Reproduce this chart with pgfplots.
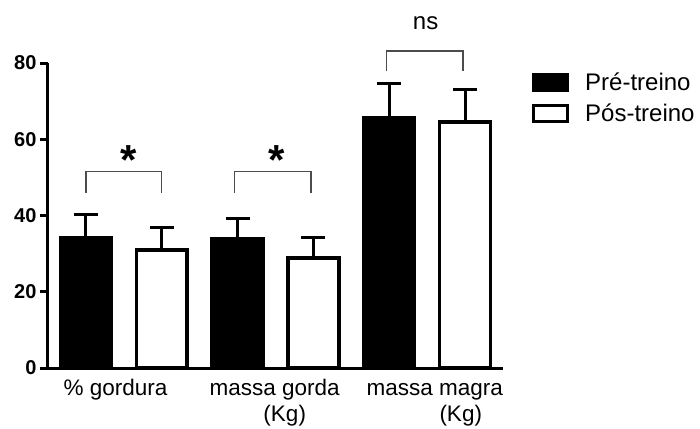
\documentclass[border=0pt]{standalone}
\usepackage{fontspec}
\setmainfont{Liberation Sans}
\usepackage{pgfplots}
\pgfplotsset{compat=1.18}
\begin{document}
\begin{tikzpicture}
\useasboundingbox (-48pt,-60pt) rectangle (652pt,368pt);
\begin{axis}[
  scale only axis, width=455pt, height=305pt,
  xmin=-0.5, xmax=5.5, ymin=0, ymax=80,
  axis x line*=bottom, axis y line*=left,
  axis line style={-, line width=3pt, black},
  clip=false,
  ytick={0,20,40,60,80},
  tick align=outside, major tick length=8pt,
  y tick style={line width=3pt, black},
  x tick style={draw=none},
  xtick={0.39,2.49,4.6},
  xticklabels={{\% gordura},{massa gorda\\\hspace*{20pt}(Kg)},{massa magra\vphantom{d}\\\hspace*{52pt}(Kg)}},
  /pgf/number format/assume math mode=true,
  yticklabel style={font=\fontsize{20}{22}\selectfont\bfseries},
  xticklabel style={align=center, font=\fontsize{22.5}{25.5}\selectfont, anchor=north, inner sep=0pt, yshift=-3pt},
  ybar, bar width=0.67, bar shift=0pt,
  legend image code/.code={\draw[#1,line width=3pt] (0pt,-8pt) rectangle (34pt,8pt);},
  legend style={at={(1.0637,0.975)}, anchor=north west, draw=none, fill=none,
    font=\fontsize{24}{28}\selectfont, row sep=8pt, column sep=14pt, inner sep=0pt},
  legend cell align=left,
]
\addplot[fill=black, draw=black, line width=3.5pt,
  error bars/.cd, y dir=plus, y explicit,
  error bar style={line width=3pt, black},
  error mark options={rotate=90, mark size=12pt, line width=3pt, black}]
  coordinates {(0,34.1) +- (0,6.1) (2,33.9) +- (0,5.3) (4,65.6) +- (0,8.9)};
\addlegendentry{Pré-treino}
\addplot[fill=white, draw=black, line width=3.5pt,
  error bars/.cd, y dir=plus, y explicit,
  error bar style={line width=3pt, black},
  error mark options={rotate=90, mark size=12pt, line width=3pt, black}]
  coordinates {(1,31.0) +- (0,5.9) (3,28.8) +- (0,5.3) (5,64.5) +- (0,8.6)};
\addlegendentry{Pós-treino}
% significance brackets
\draw[line width=1.4pt, black!70] (axis cs:0,46) -- (axis cs:0,51.6) -- (axis cs:1,51.6) -- (axis cs:1,46);
\draw[line width=1.4pt, black!70] (axis cs:1.96,46) -- (axis cs:1.96,51.6) -- (axis cs:2.97,51.6) -- (axis cs:2.97,46);
\draw[line width=1.4pt, black!70] (axis cs:3.96,77.8) -- (axis cs:3.96,83.1) -- (axis cs:4.97,83.1) -- (axis cs:4.97,77.8);
\node[font=\fontsize{42}{42}\selectfont\bfseries, anchor=base, inner sep=0pt] at (axis cs:0.56,50.8) {*};
\node[font=\fontsize{42}{42}\selectfont\bfseries, anchor=base, inner sep=0pt] at (axis cs:2.52,50.8) {*};
\node[font=\fontsize{24}{28}\selectfont, anchor=base, inner sep=0pt] at (axis cs:4.48,88.8) {ns};
\end{axis}
\end{tikzpicture}
\end{document}
